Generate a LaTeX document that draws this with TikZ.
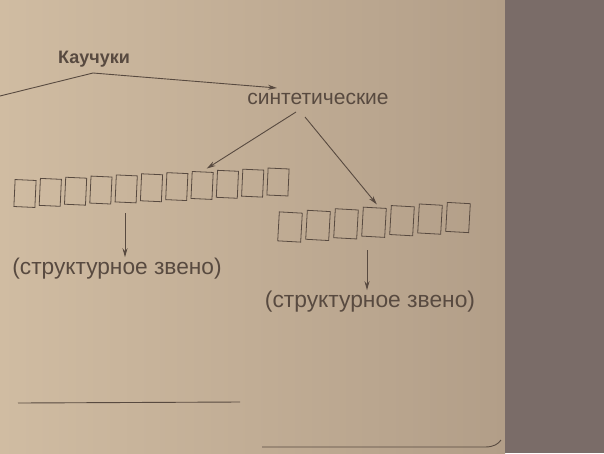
\documentclass[tikz,border=0pt]{standalone}
\usepackage{fontspec}
\setmainfont{Liberation Sans}
\usetikzlibrary{positioning, calc, arrows.meta}

\definecolor{paper}{RGB}{208,188,162}
\definecolor{paperdark}{RGB}{178,158,136}
\definecolor{edge}{RGB}{122,108,104}
\definecolor{ink}{RGB}{88,74,64}

\begin{document}
\begin{tikzpicture}[x=1pt,y=-1pt,
    arr/.style={draw=ink, line width=0.9pt, -{Stealth[length=9pt,width=5pt]}},
    cell/.style={draw=ink, line width=0.8pt, minimum width=21pt, minimum height=27pt, inner sep=0pt},
    cellr/.style={draw=ink, line width=0.8pt, minimum width=23pt, minimum height=29pt, inner sep=0pt},
    txt/.style={text=ink, inner sep=1pt}]
  \useasboundingbox (0,0) rectangle (604,453);
  % paper
  \shade[left color=paper, right color=paperdark] (0,0) rectangle (505,453);
  \fill[edge] (505,0) rectangle (604,453);

  % labels
  \node[txt, font=\fontsize{18}{20}\selectfont\bfseries] (kau) at (94,59) {Каучуки};
  \node[txt, font=\fontsize{21}{23}\selectfont] (sint) at (318,99) {синтетические};

  \coordinate (lft) at (0,96);
  \coordinate (bend) at (93,73);
  \coordinate (tip) at (277,88);
  \draw[arr] (lft) -- (bend) -- (tip);

  % left chain
  \foreach \i in {1,...,11}
    \node[cell, rotate=-2.6] (l\i) at ({25+25.3*(\i-1)},{193.5-1.15*(\i-1)}) {};
  % right chain
  \foreach \i in {1,...,7}
    \node[cellr, rotate=-3.2] (r\i) at ({290+28*(\i-1)},{227-1.58*(\i-1)}) {};

  \coordinate (sa) at (296,112);
  \coordinate (sb) at (305,117);
  \draw[arr] (sa) -- ($(l8.north)+(4,-3)$);
  \draw[arr] (sb) -- ($(r4.north)+(2,-3)$);

  \node[txt, font=\fontsize{22.7}{24}\selectfont] (lab1) at (117,269) {(структурное звено)};
  \node[txt, font=\fontsize{22.8}{24}\selectfont] (lab2) at (370,302) {(структурное звено)};

  \coordinate (da) at (125,213);
  \coordinate (db) at (367,250);
  \draw[arr] (da) -- (da |- lab1.north);
  \draw[arr] (db) -- (db |- lab2.north);

  % answer lines
  \draw[ink, line width=0.9pt] (18,403) -- (240,402);
  \draw[ink, line width=0.9pt] (262,447) -- (485,447) .. controls (494,447) and (498,444) .. (501,440);
\end{tikzpicture}
\end{document}
